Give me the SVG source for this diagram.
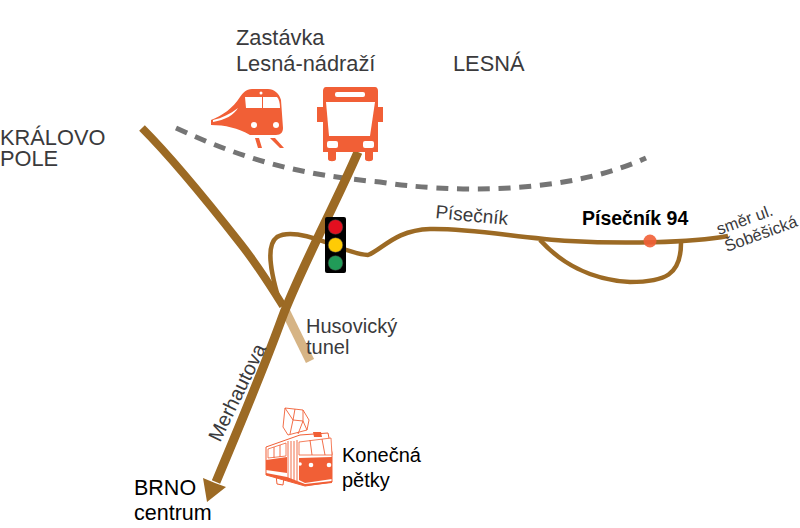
<svg xmlns="http://www.w3.org/2000/svg" width="800" height="528" viewBox="0 0 800 528">
<style>
text{font-family:"Liberation Sans",Arial,sans-serif;fill:#3a3a3c;font-size:21.800px}
.k{fill:#000}
.o{fill:#f15f36}
.w{fill:#fff}
.road{fill:none;stroke:#9c6a24;stroke-linecap:butt;stroke-linejoin:round}
.tl{fill:none;stroke:#f15f36;stroke-width:.9}
</style>
<rect width="800" height="528" fill="#fff"/>
<g id="connectors">
<path d="M176 128C245 160 300 175 380 182C450 193 565 195 646 158" fill="none" stroke="#757575" stroke-width="5" stroke-dasharray="12 8.700"/>
<path d="M284 308L310 361" fill="none" stroke="#d6b485" stroke-width="9"/>
<path d="M142 128C170 156 200 192 240 243C255 262 270 285 283 306" class="road" stroke-width="8"/>
<path d="M358 152C335 205 300 270 282 318C265 365 240 425 216 482" class="road" stroke-width="9"/>
<path d="M203 478L215 483L226 487L207 502Z" fill="#9c6a24"/>
<path d="M279 300C270 270 266 245 277 237C290 229 315 238 328 243C340 248 355 254 368 255C382 250 395 230 430 229C470 228 520 238 570 241C620 244 690 243 728 236" class="road" stroke-width="4.500"/>
<path d="M540 240C560 262 590 280 630 282C665 282 681 275 681 243" class="road" stroke-width="4.500"/>
</g>
<g id="pisecnik-94"><circle cx="650" cy="241" r="6.500" fill="#f15f36" fill-opacity=".9"/><text x="582" y="225" class="k" font-weight="bold" style="font-size:19.500px">Písečník 94</text></g>
<g id="semafor">
<rect x="325" y="217" width="21" height="56" rx="2" fill="#000"/>
<circle cx="335.500" cy="227" r="7.300" fill="#e30f1f" stroke="#444" stroke-width=".5"/>
<circle cx="335.500" cy="245" r="7.300" fill="#ffcb05" stroke="#444" stroke-width=".5"/>
<circle cx="335.500" cy="263" r="7.300" fill="#219b58" stroke="#444" stroke-width=".5"/>
</g>
<g id="vlak">
<path d="M211 120L211 125C225 125 238 128 250 135L276 135C281 135 283 132 283 128L281 100C279 93 274 89 268 89L252 89C246 89 243 93 240 97C233 108 222 116 211 120Z" class="o"/>
<path d="M245 97L262 97L262 108L246 108Z M263 97L277 97C279 99 280 103 280 108L263 108Z" class="w"/>
<path d="M213 120C222 118 230 114 238 108C234 115 225 120 213 122Z" class="w"/>
<circle cx="254" cy="125" r="3" class="w"/><circle cx="276" cy="125" r="3" class="w"/><circle cx="261" cy="93" r="1.500" class="w"/>
<path d="M255 138L259 138L262 148L258 148Z M270 138L275 138L284 148L280 148Z" class="o"/>
</g>
<g id="autobus">
<path d="M326 87L375 87C377 87 378 89 378 91L378 107L383 107L383 122L378 122L378 152L373 152L373 159C373 162 365 162 365 159L365 152L336 152L336 159C336 162 328 162 328 159L328 152L323 152L323 122L317 122L317 107L323 107L323 91C323 89 324 87 326 87Z" class="o"/>
<rect x="335" y="92" width="30" height="5" rx="2" class="w"/>
<path d="M326 102L375 102L370 136L329 136Z" class="w"/>
<rect x="327" y="141" width="11" height="7" rx="2" class="w"/><rect x="363" y="141" width="11" height="7" rx="2" class="w"/>
</g>
<g id="tramvaj">
<path d="M288 435L283 427L285 408L303 410L309 420L307 430M285 408L293 420L290 434M295 409L293 420L303 421L298 434M303 410L303 421L307 430M288 435L307 430" class="tl"/>
<path d="M266 447L300 435L328 433L332 453L332 482L305 486L266 475Z" fill="#fff" stroke="#f15f36" stroke-width="1"/>
<path d="M266 460L287 457L287 473L266 470Z M299 458L332 457L332 479L305 483L299 480Z" class="o"/>
<path d="M266 473L287 477L305 484L332 481L332 483L305 486L266 475Z M313 432L321 432L322 437L314 437Z" class="o"/>
<path d="M268 449L286 443L286 456L268 458Z M299 442L331 438L332 455L299 455Z" fill="#fff" stroke="#f15f36" stroke-width=".8"/>
<path d="M274 447L274 458M280 445L280 457M288 441L288 480M291 441L291 481M294 441L294 481M310 440L312 455M322 439L325 455M297 440L297 481" class="tl"/>
<path d="M276 475L277 484L283 485L284 477" fill="none" stroke="#f15f36"/>
<circle cx="300" cy="464" r="1.800" class="w"/><circle cx="311" cy="465" r="2.300" class="w"/><circle cx="329" cy="465" r="2.300" class="w"/>
</g>
<g id="labels">
<text x="236" y="45">Zastávka</text>
<text x="236" y="71">Lesná-nádraží</text>
<text x="453" y="71">LESNÁ</text>
<text x="0" y="145">KRÁLOVO</text>
<text x="0" y="166">POLE</text>
<text x="306" y="333" style="font-size:20px">Husovický</text>
<text x="306" y="354" style="font-size:20px">tunel</text>
<text transform="translate(220 443) rotate(-64)" style="font-size:20px">Merhautova</text>
<text transform="translate(435 218) rotate(5.500)" style="font-size:19px">Písečník</text>
<text transform="translate(719 235) rotate(-20)" style="font-size:16.500px">směr ul.</text>
<text transform="translate(727 252) rotate(-20)" style="font-size:16.500px">Šoběšická</text>
<text x="342" y="462" class="k" style="font-size:20px">Konečná</text>
<text x="342" y="487" class="k" style="font-size:20px">pětky</text>
<text x="134" y="495" class="k" style="font-size:21.500px">BRNO</text>
<text x="134" y="520" class="k" style="font-size:21.500px">centrum</text>
</g>
</svg>
